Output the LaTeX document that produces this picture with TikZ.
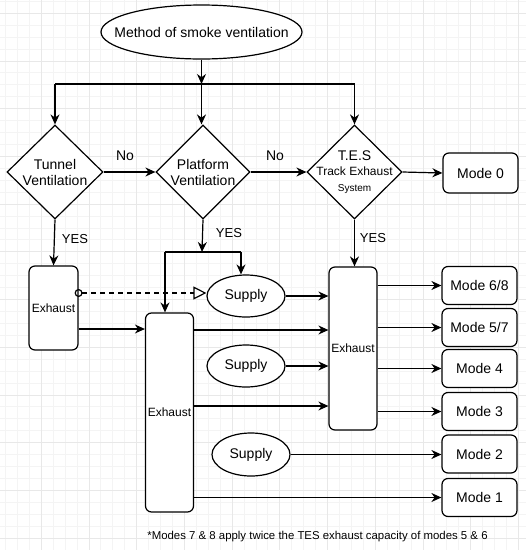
\documentclass[tikz,border=0pt]{standalone}
\usepackage{fontspec}
\setmainfont{Liberation Sans}
\usetikzlibrary{arrows.meta,shapes.geometric}

\definecolor{gridminor}{gray}{0.955}
\definecolor{gridmajor}{gray}{0.91}
\newcommand{\fs}[1]{\fontsize{#1}{#1}\selectfont}

\tikzset{
  box/.style={draw, rounded corners=6pt, line width=1.2pt, fill=white, inner sep=0pt},
  dec/.style={draw, diamond, line width=1.2pt, fill=white, inner sep=0pt, minimum height=94pt},
  oval/.style={draw, ellipse, line width=1.2pt, fill=white, inner sep=0pt},
  arr/.style={line width=1.2pt, -{Stealth[length=10pt,width=9pt]}},
  line/.style={line width=1.2pt},
  txt/.style={font=\fs{14}},
  small/.style={font=\fs{12}},
}

\begin{document}
\begin{tikzpicture}[x=1pt,y=-1pt]
\useasboundingbox (0,0) rectangle (526,550);
% background grid
\fill[white] (0,0) rectangle (526,550);
\foreach \i in {0,...,43} \draw[gridminor] ({5.2+11.93*\i},0) -- ({5.2+11.93*\i},550);
\foreach \i in {0,...,46} \draw[gridminor] (0,{1.05+11.93*\i}) -- (526,{1.05+11.93*\i});
\foreach \i in {0,...,10} \draw[gridmajor] ({41+47.72*\i},0) -- ({41+47.72*\i},550);
\foreach \i in {0,...,11} \draw[gridmajor] (0,{13+47.72*\i}) -- (526,{13+47.72*\i});

% start
\node[oval, minimum width=201pt, minimum height=54pt] (start) at (201.5,32) {};
\node[txt] (startTxt) at (start) {Method of smoke ventilation};

% decisions
\node[dec, minimum width=96pt] (tun) at (55,172) {};
\node[txt, align=center] (tunTxt) at (tun) {Tunnel\\[2pt]Ventilation};
\node[dec, minimum width=94pt] (plat) at (203,172) {};
\node[txt, align=center] (platTxt) at (plat) {Platform\\[2pt]Ventilation};
\node[dec, minimum width=95pt] (tes) at (354.5,172) {};
\node[align=center] (tesTxt) at (tes) {\fs{14}T.E.S\\[3pt]\fs{12}Track Exhaust\\[4pt]\fs{10}System};
\node[box, txt, minimum width=75pt, minimum height=40pt] (m0) at (480.5,173) {Mode 0};

% exhaust and supply
\node[box, small, minimum width=49pt, minimum height=84pt] (exA) at (53.5,308) {Exhaust};
\node[box, small, minimum width=48pt, minimum height=199pt] (exB) at (169.5,412.5) {Exhaust};
\node[box, small, minimum width=48pt, minimum height=163pt] (exC) at (353,348.5) {Exhaust};
\node[oval, txt, minimum width=78pt, minimum height=42pt] (supA) at (246,296) {Supply};
\node[oval, txt, minimum width=78pt, minimum height=42pt] (supB) at (246,366) {Supply};
\node[oval, txt, minimum width=78pt, minimum height=43pt] (supC) at (251,454.5) {Supply};

% modes
\node[box, txt, minimum width=75pt, minimum height=38pt] (m68) at (479.5,285.5) {Mode 6/8};
\node[box, txt, minimum width=75pt, minimum height=38pt] (m57) at (479.5,327.5) {Mode 5/7};
\node[box, txt, minimum width=75pt, minimum height=38pt] (m4) at (479.5,368.5) {Mode 4};
\node[box, txt, minimum width=75pt, minimum height=38pt] (m3) at (479.5,411.5) {Mode 3};
\node[box, txt, minimum width=75pt, minimum height=38pt] (m2) at (479.5,454) {Mode 2};
\node[box, txt, minimum width=75pt, minimum height=38pt] (m1) at (479.5,497.5) {Mode 1};

% top split
\coordinate (split) at (201.5,84);
\draw[arr] (start) -- (split);
\draw[line] (tun.north |- split) -- (tes.north |- split);
\draw[arr] (tun.north |- split) -- (tun.north);
\draw[arr] (split) -- (split |- plat.north);
\draw[arr] (tes.north |- split) -- (tes.north);

% No branches
\draw[arr] (tun.east) -- (plat.west);
\node[txt] (no1) at (125,156) {No};
\draw[arr] (plat.east) -- (tes.west);
\node[txt] (no2) at (275,156) {No};
\draw[arr] (tes.east) -- (m0.west);

% YES branches
\draw[arr] (tun.south) -- (exA.north);
\node[font=\fs{13}] (yes1) at (75,239) {YES};
\coordinate (pj) at (202,252);
\coordinate (pl) at (165,252);
\coordinate (pr) at (241,252);
\draw[arr] (plat.south) -- (pj);
\draw[line] (pl) -- (pr);
\draw[arr] (pl) -- (pl |- exB.north);
\draw[arr] (pr) -- (pr |- supA.north);
\node[font=\fs{13}] (yes2) at (229,233) {YES};
\draw[arr] (tes.south) -- (tes.south |- exC.north);
\node[font=\fs{13}] (yes3) at (373,238) {YES};

% tunnel exhaust
\coordinate (dy) at (0,293);
\coordinate (ya) at (0,329);
\draw[line, dash pattern=on 5pt off 4pt, {Circle[open,length=8pt]}-{Triangle[open,length=13pt,width=13pt]}, shorten <=-4pt] (exA.east |- dy) -- (supA.west |- dy);
\draw[arr] (exA.east |- ya) -- (exB.west |- ya);

% into TES exhaust
\coordinate (yb) at (0,330);
\coordinate (yc) at (0,406);
\draw[arr] (supA.east) -- (supA.east -| exC.west);
\draw[arr] (exB.east |- yb) -- (exC.west |- yb);
\draw[arr] (supB.east) -- (supB.east -| exC.west);
\draw[arr] (exB.east |- yc) -- (exC.west |- yc);

% outputs
\draw[arr] (exC.east |- m68) -- (m68.west);
\draw[arr] (exC.east |- m57) -- (m57.west);
\draw[arr] (exC.east |- m4) -- (m4.west);
\draw[arr] (exC.east |- m3) -- (m3.west);
\draw[arr] (supC.east) -- (supC.east -| m2.west);
\draw[arr] (exB.east |- m1) -- (m1.west);

% footnote
\node[font=\fs{11.4}] (note) at (317.5,537) {*Modes 7 \& 8 apply twice the TES exhaust capacity of modes 5 \& 6};
\end{tikzpicture}
\end{document}
